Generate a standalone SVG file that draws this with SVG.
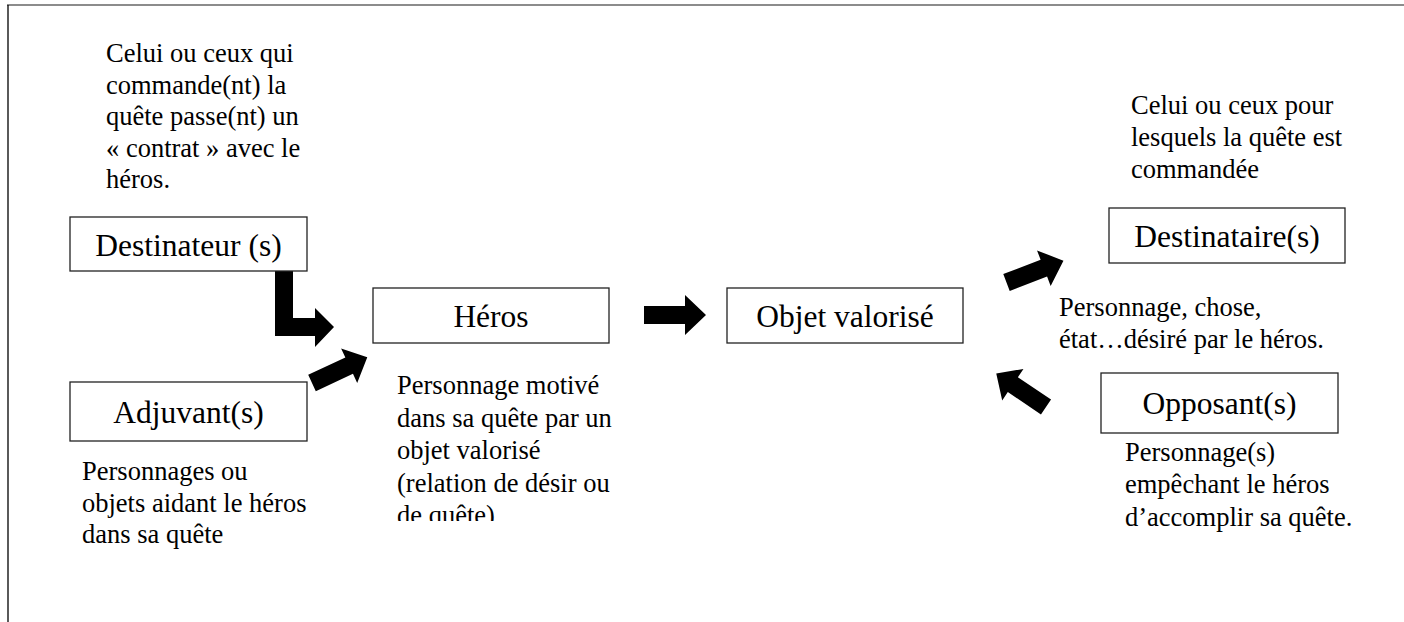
<svg xmlns="http://www.w3.org/2000/svg" width="1404" height="622" viewBox="0 0 1404 622">
<style>
.box{fill:#fff;stroke:#222;stroke-width:1.3}
.lbl{font-family:"Liberation Serif","Times New Roman",serif;font-size:31.5px;fill:#000;text-anchor:middle}
.txt{font-family:"Liberation Serif","Times New Roman",serif;font-size:26.5px;fill:#000}
.arr{fill:#000}
</style>
<defs>
<clipPath id="clipHeros"><rect x="380" y="350" width="300" height="171"/></clipPath>
</defs>
<rect width="1404" height="622" fill="#fff"/>
<g id="frame">
<line x1="7" y1="5" x2="1404" y2="5" stroke="#666" stroke-width="1.6"/>
<line x1="8" y1="5" x2="8" y2="622" stroke="#000" stroke-width="1.3"/>
</g>
<g id="connectors">
<polygon class="arr" points="275,268 293,268 293,318 315,318 315,308 334,327 315,347 315,336 275,336"/>
<polygon class="arr" transform="translate(312,383) rotate(-25)" points="0,-9 41,-9 41,-19 61,0 41,19 41,9 0,9"/>
<polygon class="arr" points="644,306 685,306 685,295 706,315 685,335 685,324 644,324"/>
<polygon class="arr" transform="translate(1006.5,282.5) rotate(-21)" points="0,-9 40,-9 40,-19 61,0 40,19 40,9 0,9"/>
<polygon class="arr" transform="translate(1046,407) rotate(-146)" points="0,-9 40,-9 40,-19 60,0 40,19 40,9 0,9"/>
</g>
<g id="destinateur">
<text class="txt" x="106"><tspan x="106" y="62">Celui ou ceux qui</tspan><tspan x="106" y="93.5">commande(nt) la</tspan><tspan x="106" y="125">quête passe(nt) un</tspan><tspan x="106" y="156.5">« contrat » avec le</tspan><tspan x="106" y="188">héros.</tspan></text>
<rect class="box" x="70" y="217" width="237" height="54"/>
<text class="lbl" x="188.5" y="256">Destinateur (s)</text>
</g>
<g id="adjuvant">
<rect class="box" x="70" y="382" width="237" height="59"/>
<text class="lbl" x="188.5" y="423">Adjuvant(s)</text>
<text class="txt"><tspan x="82" y="480">Personnages ou</tspan><tspan x="82" y="511.5">objets aidant le héros</tspan><tspan x="82" y="543">dans sa quête</tspan></text>
</g>
<g id="heros">
<rect class="box" x="373" y="288" width="236" height="55"/>
<text class="lbl" x="491" y="327">Héros</text>
<text class="txt" clip-path="url(#clipHeros)"><tspan x="397" y="394">Personnage motivé</tspan><tspan x="397" y="426.5">dans sa quête par un</tspan><tspan x="397" y="459">objet valorisé</tspan><tspan x="397" y="491.5">(relation de désir ou</tspan><tspan x="397" y="524">de quête)</tspan></text>
</g>
<g id="objet">
<rect class="box" x="727" y="288" width="236" height="55"/>
<text class="lbl" x="845" y="327">Objet valorisé</text>
</g>
<g id="destinataire">
<text class="txt"><tspan x="1131" y="114">Celui ou ceux pour</tspan><tspan x="1131" y="146">lesquels la quête est</tspan><tspan x="1131" y="178">commandée</tspan></text>
<rect class="box" x="1109" y="208" width="236" height="55"/>
<text class="lbl" x="1227" y="247">Destinataire(s)</text>
<text class="txt"><tspan x="1059" y="316">Personnage, chose,</tspan><tspan x="1059" y="348">état…désiré par le héros.</tspan></text>
</g>
<g id="opposant">
<rect class="box" x="1101" y="373" width="237" height="60"/>
<text class="lbl" x="1219.5" y="414">Opposant(s)</text>
<text class="txt"><tspan x="1125" y="461">Personnage(s)</tspan><tspan x="1125" y="493">empêchant le héros</tspan><tspan x="1125" y="526">d’accomplir sa quête.</tspan></text>
</g>
</svg>
